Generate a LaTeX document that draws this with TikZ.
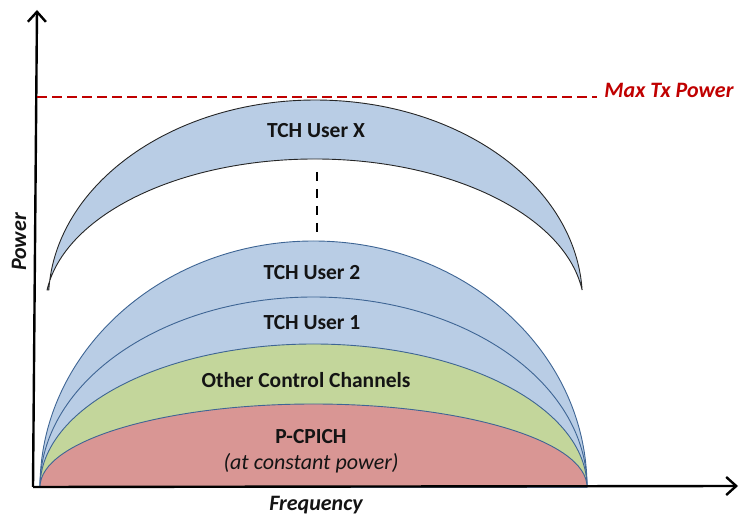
\documentclass[tikz,border=0pt]{standalone}
\usepackage{fontspec}
\setmainfont{Carlito}
\usetikzlibrary{arrows.meta}
\definecolor{bluefill}{HTML}{B9CDE5}
\definecolor{greenfill}{HTML}{C3D69B}
\definecolor{redfill}{HTML}{D99694}
\definecolor{edgeblue}{HTML}{3E6594}
\definecolor{maxred}{HTML}{C00000}
\definecolor{txt}{HTML}{141414}
\begin{document}
\begin{tikzpicture}[x=1pt,y=1pt,
  axis/.style={line width=2.4pt,-{Straight Barb[length=10pt,width=18pt,line width=2.4pt]}},
  band/.style={draw=edgeblue,line width=0.9pt},
  lbl/.style={text=txt,font=\fontsize{21.5}{25}\selectfont\bfseries,inner sep=0pt},
  axlbl/.style={text=txt,font=\fontsize{22}{26}\selectfont\bfseries\itshape,inner sep=0pt}]
\useasboundingbox (0,0) rectangle (739,517);
\coordinate (O) at (33,30);
\coordinate (ytop) at (37,507);
\coordinate (xend) at (738,31);
\coordinate (m1) at (37,420);
\coordinate (m2) at (597,420);
% bands
\draw[band,fill=bluefill] (40,30) arc[start angle=180,end angle=0,x radius=273.5,y radius=246] -- cycle;
\draw[band,fill=bluefill] (40,30) arc[start angle=180,end angle=0,x radius=273.5,y radius=190] -- cycle;
\draw[band,fill=greenfill] (40,30) arc[start angle=180,end angle=0,x radius=273.5,y radius=143] -- cycle;
\draw[band,fill=redfill] (40,30) arc[start angle=180,end angle=0,x radius=273.5,y radius=83] -- cycle;
% crescent
\draw[draw=black!85,line width=0.9pt,fill=bluefill,line join=miter] (48.8,227)
  arc[start angle=177.13,end angle=2.87,x radius=267,y radius=200]
  arc[start angle=7.28,end angle=172.72,x radius=269.7,y radius=150] -- cycle;
% dashed continuation
\coordinate (d1) at (317,345);
\coordinate (d2) at (317,285);
\draw[line width=2pt,dash pattern=on 9.5pt off 7.5pt,black] (d1) -- (d2);
% axes
\draw[axis] (O) -- (ytop);
\draw[axis] (O) -- (xend);
% max line
\draw[maxred,line width=2.5pt,dash pattern=on 10pt off 5pt] (m1) -- (m2);
\node[text=maxred,font=\fontsize{22}{26}\selectfont\bfseries\itshape,inner sep=0pt] (maxlbl) at (669,427) {Max Tx Power};
% labels
\node[lbl] (ux) at (316,386) {TCH User X};
\node[lbl] (u2) at (312,244) {TCH User 2};
\node[lbl] (u1) at (312,194) {TCH User 1};
\node[lbl] (occ) at (306,137) {Other Control Channels};
\node[lbl] (pc) at (311,80) {P-CPICH};
\node[text=txt,font=\fontsize{22}{26}\selectfont\itshape,inner sep=0pt] (cp) at (311,54) {(at constant power)};
\node[axlbl,rotate=90] (pw) at (19,275) {Power};
\node[axlbl] (fq) at (316,12) {Frequency};
\end{tikzpicture}
\end{document}
